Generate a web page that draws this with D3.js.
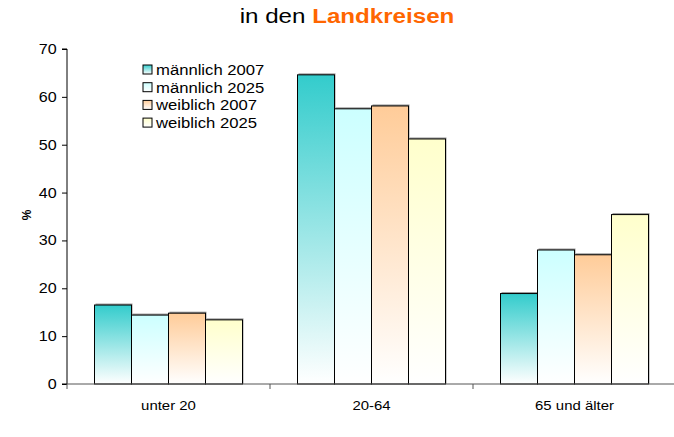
<!DOCTYPE html>
<html>
<head>
<meta charset="utf-8">
<script src="https://cdn.jsdelivr.net/npm/d3@7"></script>
<style>
  body { margin: 0; background: #fff; }
  svg { font-family: Arial, "Liberation Sans", sans-serif; }
</style>
</head>
<body>
<div id="chart"></div>
<script>
// Chart data
const categories = ["unter 20", "20-64", "65 und älter"];
const seriesNames = ["männlich 2007", "männlich 2025", "weiblich 2007", "weiblich 2025"];
const maennlich2007 = [16.5, 64.6, 18.9];
const maennlich2025 = [14.4, 57.5, 28.0];
const weiblich2007 = [14.8, 58.1, 27.0];
const weiblich2025 = [13.4, 51.2, 35.4];
const yTicks = [0, 10, 20, 30, 40, 50, 60, 70];

const seriesValues = [maennlich2007, maennlich2025, weiblich2007, weiblich2025];
const colors = ["#33CCCC", "#CCFFFF", "#FFCC99", "#FFFFCC"];

const width = 674, height = 437;
const margin = { top: 49, left: 67, bottom: 53 };
const plotW = 609;
const plotH = height - margin.top - margin.bottom;
const stretch = 1.15; // text in the original looks a bit wide

const svg = d3.select("#chart").append("svg")
    .attr("width", width)
    .attr("height", height);

// gradients: colour at top, fading to white at bottom
const defs = svg.append("defs");
colors.forEach((c, i) => {
    const g = defs.append("linearGradient")
        .attr("id", "grad" + i)
        .attr("x1", 0).attr("y1", 0).attr("x2", 0).attr("y2", 1);
    g.append("stop").attr("offset", "0%").attr("stop-color", c);
    g.append("stop").attr("offset", "100%").attr("stop-color", "#ffffff");
});

// title
const title = svg.append("text")
    .attr("transform", `translate(347,23) scale(${stretch},1)`)
    .attr("text-anchor", "middle")
    .style("font-size", "21px");
title.append("tspan").attr("fill", "#000").text("in den ");
title.append("tspan").attr("fill", "#FF6600").style("font-weight", "bold").text("Landkreisen");

const chart = svg.append("g")
    .attr("transform", `translate(${margin.left},${margin.top})`);

// scales
const x0 = d3.scaleBand()
    .domain(categories)
    .range([0, plotW])
    .padding(0);

const x1 = d3.scaleBand()
    .domain(seriesNames)
    .range([27.5, x0.bandwidth() - 27.5])
    .padding(0);

const y = d3.scaleLinear()
    .domain([0, 70])
    .range([plotH, 0]);

// bars
const groups = chart.selectAll("g.cat")
    .data(categories)
    .enter()
    .append("g")
    .attr("class", "cat")
    .attr("transform", d => `translate(${x0(d)},0)`);

groups.each(function(cat, ci) {
    const g = d3.select(this);
    seriesNames.forEach((s, si) => {
        const v = seriesValues[si][ci];
        // faint shadow line above bar
        g.append("rect")
            .attr("x", x1(s) + 1)
            .attr("y", y(v) - 1.5)
            .attr("width", x1.bandwidth())
            .attr("height", plotH - y(v) + 1.5)
            .attr("fill", "#999");
        g.append("rect")
            .attr("x", x1(s))
            .attr("y", y(v))
            .attr("width", x1.bandwidth())
            .attr("height", plotH - y(v))
            .attr("fill", `url(#grad${si})`)
            .attr("stroke", "#000")
            .attr("stroke-width", 1);
    });
});

// y axis
const yAxis = chart.append("g")
    .call(d3.axisLeft(y).tickValues(yTicks).tickSize(5).tickPadding(4));
yAxis.select(".domain").attr("stroke", "#000").attr("d", `M-5,${plotH}H0V0H-5`);
yAxis.selectAll("text")
    .style("font-size", "14px")
    .attr("fill", "#000")
    .attr("transform", `scale(${stretch},1)`);

// x axis
const xAxis = chart.append("g")
    .attr("transform", `translate(0,${plotH})`);
xAxis.append("line")
    .attr("x1", 0).attr("x2", plotW)
    .attr("y1", 0).attr("y2", 0)
    .attr("stroke", "#555");
xAxis.selectAll("line.tick")
    .data(d3.range(categories.length + 1))
    .enter()
    .append("line")
    .attr("class", "tick")
    .attr("x1", d => d * x0.bandwidth())
    .attr("x2", d => d * x0.bandwidth())
    .attr("y1", 0).attr("y2", 5)
    .attr("stroke", "#555");
xAxis.selectAll("text.cat")
    .data(categories)
    .enter()
    .append("text")
    .attr("class", "cat")
    .attr("transform", d => `translate(${x0(d) + x0.bandwidth() / 2},26) scale(${stretch},1)`)
    .attr("text-anchor", "middle")
    .style("font-size", "13px")
    .text(d => d);

// y label
svg.append("text")
    .attr("transform", "translate(31,215) rotate(-90)")
    .attr("text-anchor", "middle")
    .style("font-size", "12px")
    .style("font-weight", "bold")
    .text("%");

// legend
const legend = svg.append("g")
    .attr("transform", "translate(143,62)");
seriesNames.forEach((s, i) => {
    const row = legend.append("g").attr("transform", `translate(0,${i * 17.7})`);
    row.append("rect")
        .attr("x", 0).attr("y", 3)
        .attr("width", 9).attr("height", 9)
        .attr("fill", `url(#grad${i})`)
        .attr("stroke", "#000")
        .attr("stroke-width", 1);
    row.append("text")
        .attr("transform", `translate(13,13) scale(${stretch},1)`)
        .style("font-size", "14.5px")
        .text(s);
});
</script>
</body>
</html>
